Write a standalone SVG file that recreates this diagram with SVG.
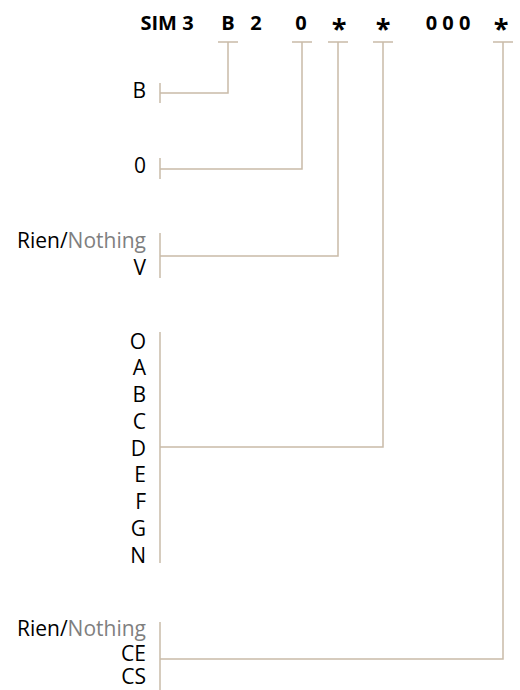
<svg xmlns="http://www.w3.org/2000/svg" width="520" height="690" viewBox="0 0 520 690">
<style>
.h{font-family:"Open Sans","Liberation Sans",sans-serif;font-weight:bold;font-size:20px;fill:#000;text-anchor:middle}
.ast{font-size:27px}
.l{font-family:"Open Sans","Liberation Sans",sans-serif;font-size:21px;fill:#000;text-anchor:end}
.g{fill:#7f7f7f}
.c{fill:none;stroke:#c9bba8;stroke-width:1.5}
</style>
<rect width="520" height="690" fill="#fff"/>
<g id="header">
<text class="h" x="167" y="30">SIM 3</text>
<text class="h" x="228" y="30">B</text>
<text class="h" x="256" y="30">2</text>
<text class="h" x="301" y="30">0</text>
<text class="h ast" x="339" y="38">*</text>
<text class="h ast" x="383" y="38">*</text>
<text class="h" x="448" y="30">0 0 0</text>
<text class="h ast" x="501" y="38">*</text>
</g>
<g id="connectors">
<path class="c" d="M218,42H238M228,42V93H160"/>
<path class="c" d="M292,42H312M302,42V169H160"/>
<path class="c" d="M328,42H348M338,42V256H160"/>
<path class="c" d="M373,42H393M383,42V447H160"/>
<path class="c" d="M493,42H513M503,42V659H160"/>
</g>
<g id="opt-b">
<path class="c" d="M160,83V103"/>
<text class="l" x="146" y="98">B</text>
</g>
<g id="opt-0">
<path class="c" d="M160,158V179"/>
<text class="l" x="146" y="173">0</text>
</g>
<g id="opt-v">
<path class="c" d="M160,233V278"/>
<text class="l" x="146" y="248">Rien/<tspan class="g">Nothing</tspan></text>
<text class="l" x="146" y="275">V</text>
</g>
<g id="opt-letters">
<path class="c" d="M160,332V563"/>
<text class="l" x="146" y="348.5">O</text>
<text class="l" x="146" y="375.2">A</text>
<text class="l" x="146" y="402">B</text>
<text class="l" x="146" y="428.7">C</text>
<text class="l" x="146" y="455.5">D</text>
<text class="l" x="146" y="482.2">E</text>
<text class="l" x="146" y="509">F</text>
<text class="l" x="146" y="535.7">G</text>
<text class="l" x="146" y="562.5">N</text>
</g>
<g id="opt-ce">
<path class="c" d="M160,622V690"/>
<text class="l" x="146" y="636">Rien/<tspan class="g">Nothing</tspan></text>
<text class="l" x="146" y="661">CE</text>
<text class="l" x="146" y="684">CS</text>
</g>
</svg>
